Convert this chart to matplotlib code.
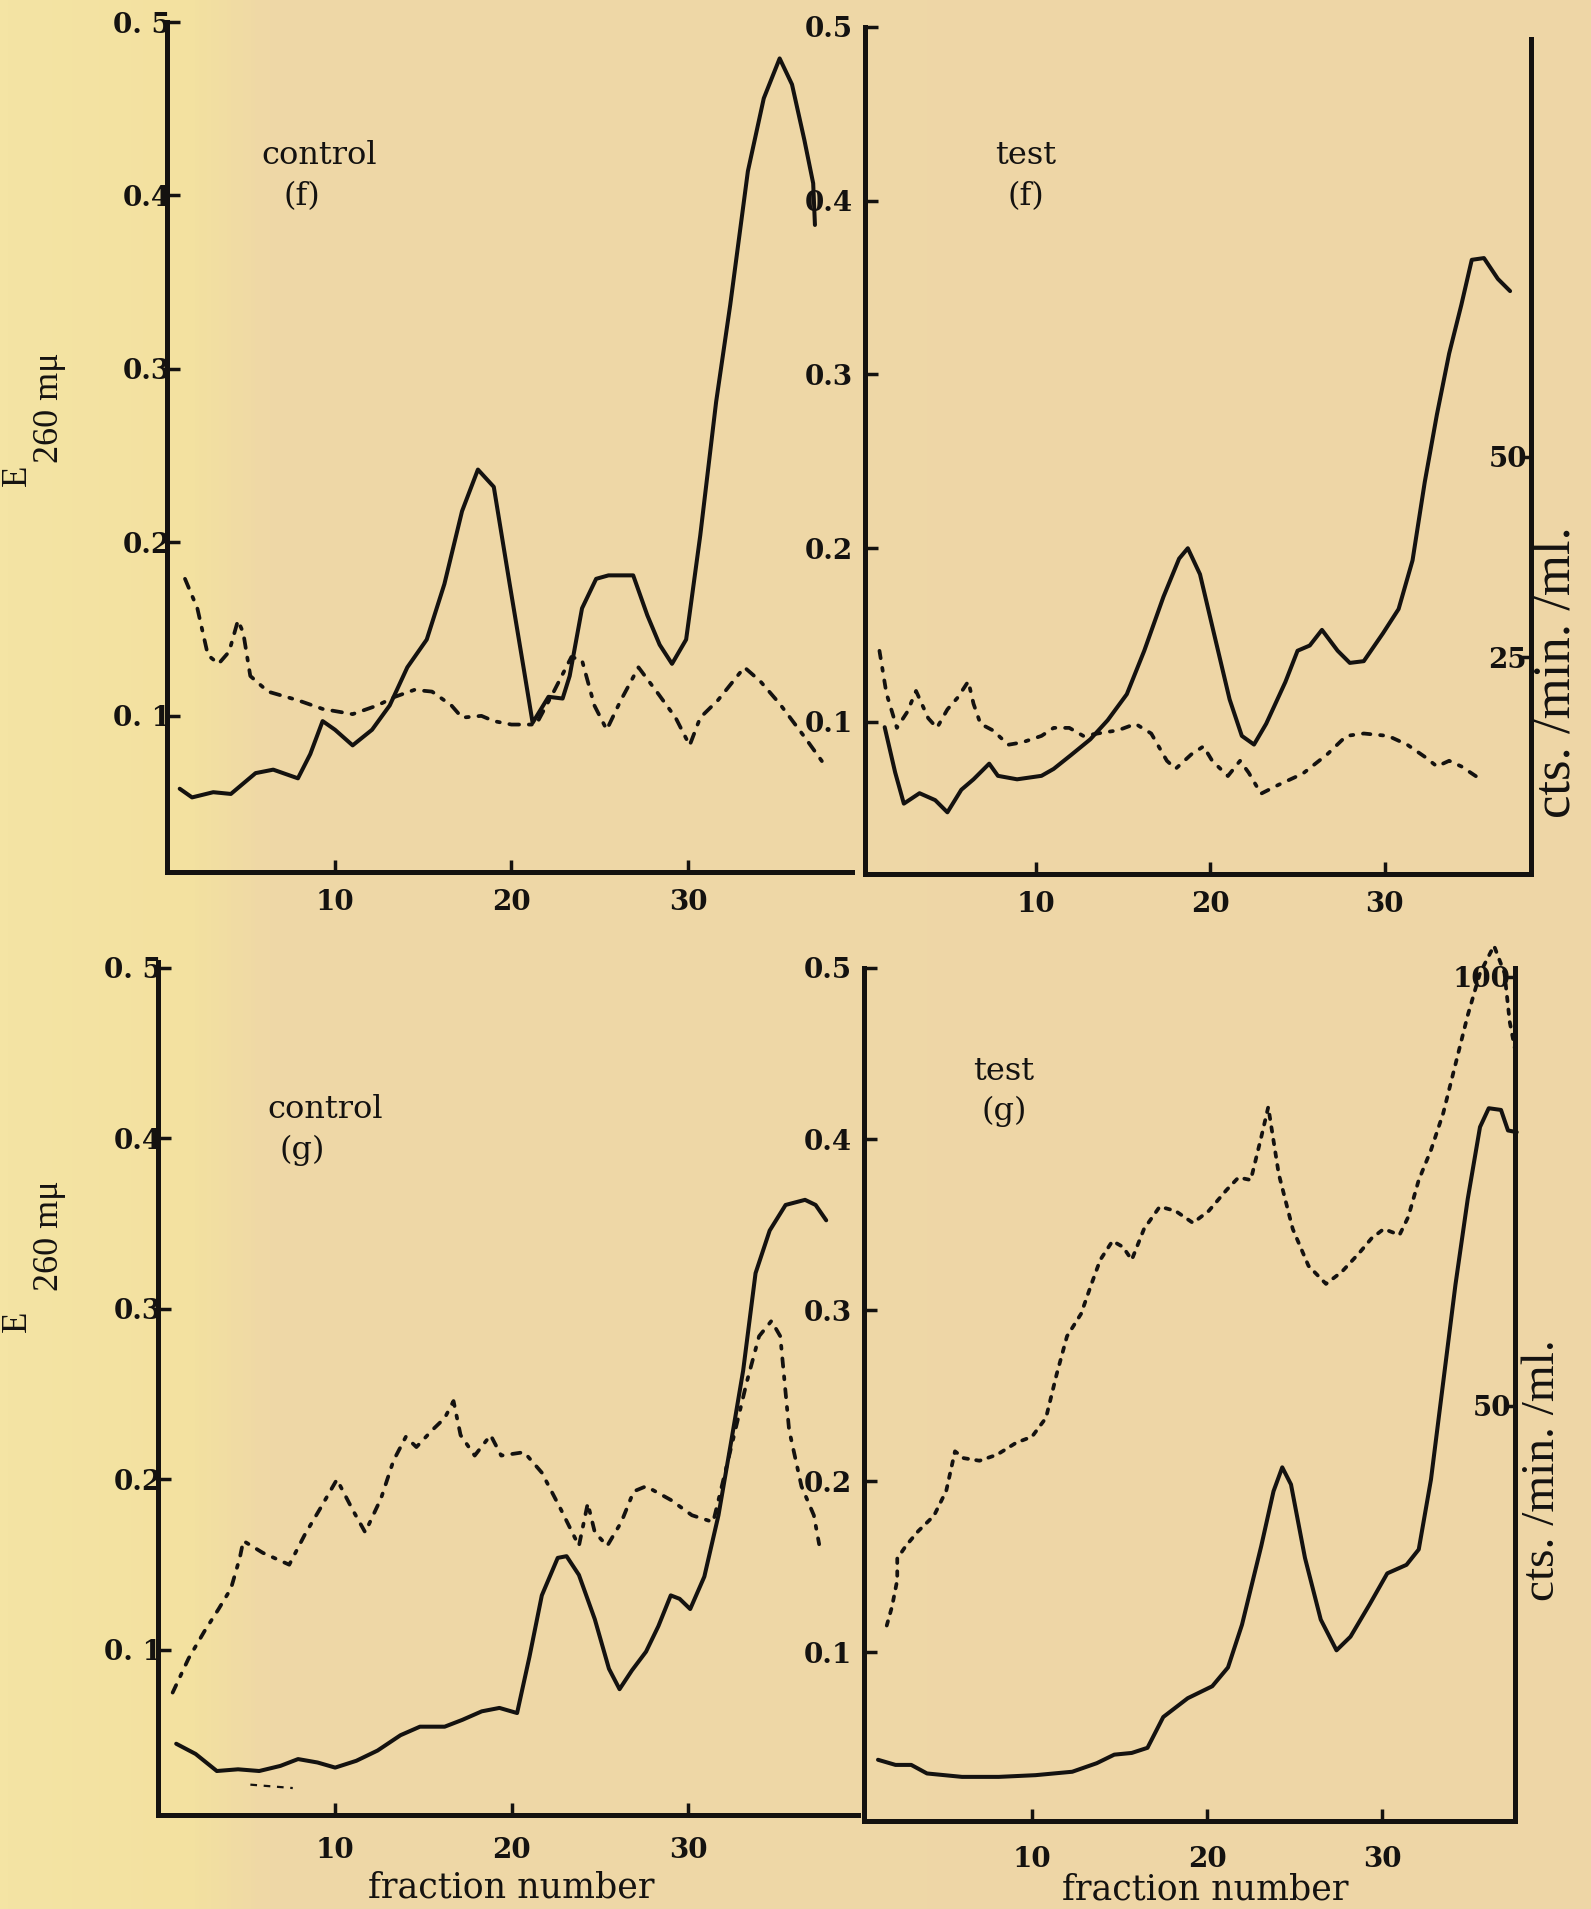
import matplotlib
matplotlib.use("Agg")
import matplotlib.pyplot as plt
import numpy as np
from matplotlib.colors import LinearSegmentedColormap

W, H = 1591, 1909

# ---- values ----
# control (f): E260 (solid) and counts (dotted, drawn on the E scale)
ctrl_f_x = [1.2, 1.9, 3.1, 4.1, 5.5, 6.5, 7.9, 8.6, 9.3, 10.0, 11.0, 12.1, 13.1, 14.1,
            15.2, 16.2, 17.2, 18.1, 19.0, 19.9, 20.7, 21.2, 22.1, 22.9, 23.3, 24.0, 24.8,
            25.5, 26.9, 27.7, 28.4, 29.1, 29.9, 30.7, 31.6, 32.4, 33.4, 34.3, 35.2, 35.9,
            36.6, 37.1, 37.2]
ctrl_f_e = [0.058, 0.053, 0.056, 0.055, 0.067, 0.069, 0.064, 0.078, 0.097, 0.092, 0.083,
            0.092, 0.106, 0.128, 0.144, 0.176, 0.218, 0.242, 0.232, 0.176, 0.127, 0.096,
            0.111, 0.110, 0.123, 0.162, 0.179, 0.181, 0.181, 0.158, 0.141, 0.130, 0.144,
            0.204, 0.281, 0.337, 0.414, 0.456, 0.479, 0.464, 0.432, 0.407, 0.383]
ctrl_f_dx = [1.5, 2.2, 2.8, 3.4, 4.0, 4.5, 4.8, 5.2, 6.2, 7.9, 9.3, 11.0, 12.4, 13.4, 14.5,
             15.5, 16.6, 17.2, 18.3, 19.0, 20.0, 21.4, 22.4, 23.4, 24.0, 24.7, 25.4, 26.2,
             27.2, 28.3, 29.3, 30.1, 30.7, 31.7, 33.2, 34.1, 35.2, 36.6, 37.8]
ctrl_f_cts = [0.179, 0.162, 0.135, 0.130, 0.137, 0.155, 0.148, 0.123, 0.114, 0.109, 0.104,
              0.101, 0.106, 0.111, 0.115, 0.114, 0.106, 0.099, 0.100, 0.097, 0.095, 0.095,
              0.114, 0.134, 0.132, 0.106, 0.092, 0.109, 0.128, 0.113, 0.099, 0.083, 0.099,
              0.109, 0.128, 0.120, 0.107, 0.088, 0.071]

# test (f): E260 (solid, left scale) and cts./min./ml. (dotted, right scale)
test_f_x = [1.3, 1.9, 2.4, 3.3, 4.2, 4.9, 5.7, 6.4, 7.3, 7.8, 8.9, 10.3, 11.0, 12.0, 13.1,
            14.1, 15.2, 16.2, 17.3, 18.2, 18.7, 19.4, 20.2, 21.1, 21.8, 22.5, 23.2, 24.3,
            25.0, 25.7, 26.4, 27.3, 28.0, 28.8, 29.9, 30.8, 31.6, 32.3, 33.0, 33.7, 34.4,
            35.0, 35.7, 36.5, 37.2]
test_f_e = [0.097, 0.071, 0.053, 0.059, 0.055, 0.048, 0.061, 0.067, 0.076, 0.069, 0.067,
            0.069, 0.073, 0.081, 0.090, 0.101, 0.116, 0.141, 0.172, 0.194, 0.200, 0.185,
            0.151, 0.113, 0.092, 0.087, 0.099, 0.123, 0.141, 0.144, 0.153, 0.141, 0.134,
            0.135, 0.151, 0.165, 0.193, 0.238, 0.277, 0.312, 0.340, 0.366, 0.367, 0.355,
            0.348]
test_f_dx = [1.0, 1.4, 2.0, 2.6, 3.1, 3.8, 4.3, 4.9, 5.5, 6.1, 6.4, 6.8, 7.5, 8.4, 9.2,
             10.3, 11.0, 11.9, 12.7, 13.8, 14.7, 15.7, 16.6, 17.5, 18.0, 18.9, 19.6, 20.1,
             21.0, 21.7, 22.2, 22.9, 23.9, 25.3, 26.7, 27.8, 28.8, 30.2, 31.3, 32.3, 33.0,
             33.7, 34.4, 35.5]
test_f_cts = [25.8, 20.5, 16.2, 18.2, 20.8, 17.4, 16.2, 18.5, 20.0, 22.0, 19.2, 16.7, 15.9,
              14.1, 14.4, 15.2, 16.2, 16.2, 15.2, 15.6, 15.9, 16.7, 15.5, 12.1, 11.1, 12.9,
              13.9, 12.1, 10.2, 12.1, 10.6, 8.0, 9.1, 10.5, 12.9, 15.2, 15.5, 15.2, 14.1,
              12.6, 11.4, 12.1, 11.4, 9.8]

# control (g)
ctrl_g_x = [1.0, 2.1, 3.3, 4.5, 5.7, 6.9, 7.9, 9.0, 10.0, 11.2, 12.4, 13.7, 14.8, 16.2,
            17.2, 18.3, 19.3, 20.3, 21.0, 21.7, 22.6, 23.1, 23.8, 24.7, 25.5, 26.1, 26.8,
            27.6, 28.3, 29.0, 29.5, 30.1, 30.9, 31.7, 32.4, 33.1, 33.8, 34.6, 35.5, 36.6,
            37.2, 37.8]
ctrl_g_e = [0.045, 0.039, 0.029, 0.030, 0.029, 0.032, 0.036, 0.034, 0.031, 0.035, 0.041,
            0.050, 0.055, 0.055, 0.059, 0.064, 0.066, 0.063, 0.096, 0.132, 0.154, 0.155,
            0.144, 0.118, 0.089, 0.077, 0.088, 0.099, 0.114, 0.132, 0.130, 0.124, 0.143,
            0.179, 0.221, 0.264, 0.321, 0.346, 0.361, 0.364, 0.361, 0.352]
ctrl_g_dx = [0.8, 1.7, 2.6, 3.4, 4.1, 4.6, 4.8, 5.9, 7.4, 8.3, 9.1, 10.1, 11.0, 11.7, 12.6,
             13.3, 14.0, 14.6, 15.5, 16.2, 16.7, 17.1, 17.9, 18.8, 19.4, 20.7, 21.7, 22.8,
             23.8, 24.3, 24.7, 25.4, 26.2, 26.9, 27.6, 29.0, 30.2, 31.4, 32.4, 33.3, 34.0,
             34.7, 35.2, 35.7, 36.4, 37.1, 37.4]
ctrl_g_cts = [0.075, 0.095, 0.111, 0.124, 0.136, 0.154, 0.164, 0.157, 0.150, 0.168, 0.182,
              0.200, 0.182, 0.169, 0.189, 0.211, 0.225, 0.219, 0.229, 0.236, 0.246, 0.226,
              0.214, 0.226, 0.214, 0.216, 0.204, 0.182, 0.161, 0.186, 0.169, 0.161, 0.175,
              0.193, 0.196, 0.188, 0.179, 0.175, 0.218, 0.257, 0.284, 0.293, 0.284, 0.229,
              0.196, 0.179, 0.162]
ctrl_g_stray_x = [5.2, 6.4, 7.6]
ctrl_g_stray = [0.021, 0.020, 0.019]

# test (g)
test_g_x = [1.2, 2.2, 3.1, 4.0, 6.0, 8.1, 10.2, 12.3, 13.7, 14.7, 15.7, 16.6, 17.5, 18.9,
            20.3, 21.2, 22.0, 23.1, 23.8, 24.3, 24.8, 25.6, 26.5, 27.4, 28.2, 29.3, 30.3,
            31.4, 32.1, 32.8, 33.5, 34.2, 34.9, 35.6, 36.1, 36.8, 37.2, 37.7]
test_g_e = [0.037, 0.034, 0.034, 0.029, 0.027, 0.027, 0.028, 0.030, 0.035, 0.040, 0.041,
            0.044, 0.062, 0.073, 0.080, 0.091, 0.116, 0.162, 0.194, 0.208, 0.198, 0.155,
            0.119, 0.101, 0.109, 0.128, 0.146, 0.151, 0.160, 0.201, 0.258, 0.315, 0.365,
            0.407, 0.418, 0.417, 0.405, 0.404]
test_g_dx = [1.7, 2.0, 2.3, 2.3, 2.8, 3.5, 4.4, 5.1, 5.6, 6.1, 7.0, 8.0, 9.1, 10.0, 10.8,
             11.4, 12.0, 12.8, 13.4, 13.9, 14.6, 15.2, 15.7, 16.4, 17.3, 18.2, 19.2, 20.1,
             21.1, 21.8, 22.5, 23.1, 23.5, 24.1, 24.9, 25.8, 26.8, 27.7, 28.7, 29.4, 30.1,
             31.0, 31.5, 32.1, 32.8, 33.5, 34.2, 34.9, 35.6, 36.4, 37.0, 37.3, 37.7]
test_g_cts = [24.4, 26.6, 29.7, 32.2, 33.7, 35.4, 37.2, 40.1, 44.7, 43.9, 43.6, 44.3, 45.7,
              46.4, 48.6, 53.6, 58.1, 60.7, 64.2, 67.0, 69.2, 68.5, 67.0, 70.6, 73.2, 72.7,
              71.3, 72.7, 75.1, 76.6, 76.3, 81.3, 84.8, 77.0, 70.6, 66.3, 64.2, 65.6, 67.8,
              69.5, 70.6, 69.9, 72.0, 76.3, 79.8, 84.1, 89.8, 95.5, 100.4, 103.6, 100.4,
              94.7, 90.5]

x_ticks = [10, 20, 30]
e_ticks = [0.1, 0.2, 0.3, 0.4, 0.5]
e_labels_left = ["0. 1", "0.2", "0.3", "0.4", "0. 5"]
e_labels_right = ["0.1", "0.2", "0.3", "0.4", "0.5"]
cts_ticks_f = [25, 50]
cts_ticks_g = [50, 100]

INK = "#141210"
SERIF = "DejaVu Serif"
TIMES = "Liberation Serif"

fig = plt.figure(figsize=(W / 100, H / 100), dpi=100)

# paper background: yellower strip on the left, beige elsewhere
bg = fig.add_axes([0, 0, 1, 1], zorder=-10)
paper = LinearSegmentedColormap.from_list(
    "paper", [(0, "#f4e4a4"), (0.12, "#f3e1a0"), (0.165, "#efd8a6"), (1, "#eed6a6")])
bg.imshow(np.linspace(0, 1, 400)[None, :], aspect="auto", cmap=paper,
          extent=[0, 1, 0, 1])
bg.set_axis_off()


def panel(left, top, right, bottom):
    return fig.add_axes([left / W, 1 - bottom / H, (right - left) / W, (bottom - top) / H])


def style(ax, xlim, ylim, ylabels, ypad, xpad):
    ax.set_xlim(xlim)
    ax.set_ylim(ylim)
    ax.patch.set_visible(False)
    for s in ["top", "right"]:
        ax.spines[s].set_visible(False)
    for s in ["left", "bottom"]:
        ax.spines[s].set_linewidth(3.6)
        ax.spines[s].set_color(INK)
    ax.set_xticks(x_ticks)
    ax.set_xticklabels([str(t) for t in x_ticks])
    ax.set_yticks(e_ticks)
    ax.set_yticklabels(ylabels)
    ax.tick_params(direction="in", length=9, width=2.5, color=INK, labelcolor=INK,
                   labelsize=20)
    ax.tick_params(axis="y", pad=ypad)
    ax.tick_params(axis="x", pad=xpad)
    for lab in ax.get_xticklabels() + ax.get_yticklabels():
        lab.set_fontfamily(SERIF)
        lab.set_fontweight("bold")


def right_axis(ax, ylim, ticks, top_val):
    ax2 = ax.twinx()
    ax2.set_ylim(ylim)
    for s in ["left", "top", "bottom"]:
        ax2.spines[s].set_visible(False)
    ax2.spines["right"].set_linewidth(3.6)
    ax2.spines["right"].set_color(INK)
    ax2.spines["right"].set_bounds(ylim[0], top_val)
    ax2.set_yticks(ticks)
    ax2.set_yticklabels([str(t) for t in ticks])
    ax2.tick_params(direction="in", length=8, width=2.5, color=INK, labelcolor=INK,
                    labelsize=20, pad=-3)
    for lab in ax2.get_yticklabels():
        lab.set_ha("right")
        lab.set_fontfamily(SERIF)
        lab.set_fontweight("bold")
    return ax2


solid = dict(color=INK, lw=2.9, solid_joinstyle="round", solid_capstyle="round",
             clip_on=False)
dotted = dict(color=INK, lw=2.7, dash_capstyle="round", clip_on=False)

# control (f)
ax1 = panel(167, 22, 852, 872)
style(ax1, (0.48, 39.3), (0.010, 0.5), e_labels_left, -3, 12)
ax1.plot(ctrl_f_x, ctrl_f_e, **solid)
ax1.plot(ctrl_f_dx, ctrl_f_cts, ls=(0, (2.6, 2.6, 0.8, 2.6)), **dotted)

# test (f)
ax2 = panel(865, 27, 1531, 874)
style(ax2, (0.17, 38.4), (0.0125, 0.5), e_labels_right, 9, 12)
ax2.plot(test_f_x, test_f_e, **solid)
ax2r = right_axis(ax2, (-2, 103.5), cts_ticks_f, 102)
ax2r.plot(test_f_dx, test_f_cts, ls=(0, (2.0, 2.6, 0.8, 2.6)), **dotted)

# control (g)
ax3 = panel(158, 962, 858, 1815)
style(ax3, (-0.03, 39.6), (0.0032, 0.5035), e_labels_left, -3, 16)
ax3.plot(ctrl_g_x, ctrl_g_e, **solid)
ax3.plot(ctrl_g_dx, ctrl_g_cts, ls=(0, (2.2, 2.6, 0.8, 2.6)), **dotted)
ax3.plot(ctrl_g_stray_x, ctrl_g_stray, ls=(0, (3, 3)), color=INK, lw=1.6)

# test (g)
ax4 = panel(864, 968, 1515, 1821)
style(ax4, (0.4, 37.6), (0.0012, 0.5), e_labels_right, 9, 18)
ax4.plot(test_g_x, test_g_e, **solid)
ax4r = right_axis(ax4, (1.63, 101), cts_ticks_g, 101)
ax4r.plot(test_g_dx, test_g_cts, ls=(0, (1.2, 2.2)), **dotted)

# panel captions
cap = dict(ha="center", va="center", fontsize=23, family=SERIF, color=INK)
fig.text(319 / W, 1 - 156 / H, "control", **cap)
fig.text(302 / W, 1 - 197 / H, "(f)", **cap)
fig.text(1026 / W, 1 - 156 / H, "test", **cap)
fig.text(1026 / W, 1 - 197 / H, "(f)", **cap)
fig.text(325 / W, 1 - 1110 / H, "control", **cap)
fig.text(302 / W, 1 - 1150 / H, "(g)", **cap)
fig.text(1004 / W, 1 - 1071 / H, "test", **cap)
fig.text(1004 / W, 1 - 1111 / H, "(g)", **cap)

# axis titles
for ypos_e, ypos_nm in [(475, 408), (1321, 1236)]:
    fig.text(17 / W, 1 - ypos_e / H, "E", rotation=90, ha="center", va="center",
             fontsize=25, family=TIMES, color=INK)
    fig.text(49 / W, 1 - ypos_nm / H, "260 m\u03bc", rotation=90, ha="center",
             va="center", fontsize=26, family=TIMES, color=INK)

fig.text(1556 / W, 1 - 672 / H, "cts. /min. /ml.", rotation=90, ha="center",
         va="center", fontsize=38, family=TIMES, color=INK)
fig.text(1543 / W, 1 - 1470 / H, "cts. /min. /ml.", rotation=90, ha="center",
         va="center", fontsize=34, family=TIMES, color=INK)

fig.text(511 / W, 1 - 1887 / H, "fraction number", ha="center", va="center",
         fontsize=25, family=SERIF, color=INK)
fig.text(1205 / W, 1 - 1889 / H, "fraction number", ha="center", va="center",
         fontsize=25, family=SERIF, color=INK)

fig.savefig("out.png", dpi=100)
